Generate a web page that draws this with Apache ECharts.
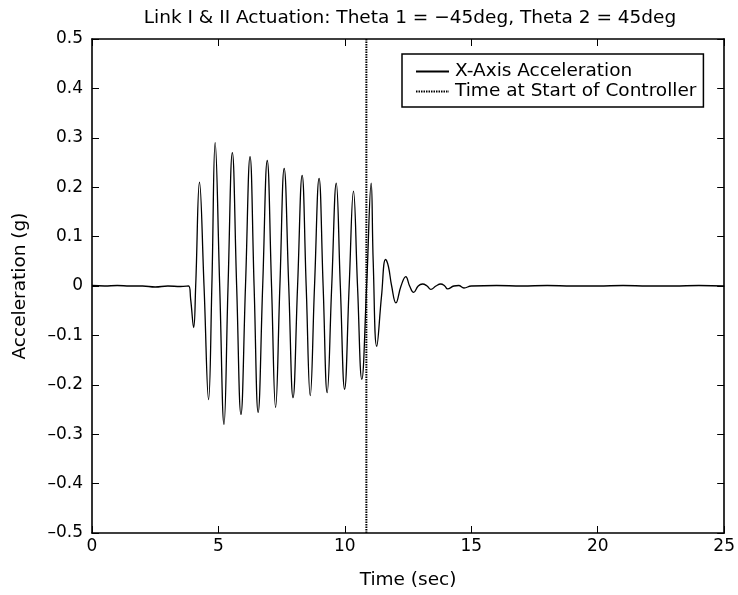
<!DOCTYPE html>
<html><head><meta charset="utf-8">
<script src="https://cdn.jsdelivr.net/npm/echarts@6/dist/echarts.min.js"></script>
<style>html,body{margin:0;padding:0;background:#fff}#c{width:738px;height:595px}</style>
</head><body><div id="c"></div>
<script>
const titleText = 'Link I & II Actuation: Theta 1 = \u221245deg, Theta 2 = 45deg';
const seriesNames = ['X-Axis Acceleration', 'Time at Start of Controller'];
const time = [0,0.5,1.0,1.5,2.0,2.5,3.0,3.5,3.82,3.90,4.02,4.10,4.25,4.43,4.61,4.74,4.87,5.05,5.22,5.38,5.55,5.72,5.89,6.07,6.25,6.41,6.57,6.75,6.93,7.10,7.26,7.43,7.60,7.78,7.95,8.13,8.31,8.47,8.63,8.80,8.98,9.14,9.30,9.48,9.66,9.82,9.99,10.17,10.34,10.50,10.67,10.86,11.04,11.12,11.26,11.45,11.61,11.72,11.85,12.02,12.22,12.41,12.56,12.72,12.90,13.07,13.25,13.40,13.60,13.79,13.95,14.06,14.31,14.50,14.71,15,16,17,18,19,20,21,22,23,24,25];
const accel = [0.001,0.0,0.001,0.0,0.0,-0.002,0.0,-0.001,0.0,-0.026,-0.084,0.0,0.210,0.0,-0.230,0.0,0.290,0.0,-0.280,0.0,0.270,0.0,-0.260,0.0,0.262,0.0,-0.256,0.0,0.254,0.0,-0.246,0.0,0.238,0.0,-0.226,0.0,0.224,0.0,-0.222,0.0,0.218,0.0,-0.216,0.0,0.208,0.0,-0.209,0.0,0.192,0.0,-0.189,0.0,0.208,0.05,-0.122,-0.02,0.054,0.040,0.0,-0.034,0.0,0.019,0.0,-0.013,0.0,0.004,0.0,-0.007,0.0,0.004,0.0,-0.006,0.0,0.001,-0.004,0.0,0.001,0.0,0.001,0.0,0.0,0.001,0.0,0.0,0.001,0.0];
const controllerStart = 10.85;
const yRange = [-0.5, 0.5];
const xRange = [0, 25];

const font = 'DejaVu Sans, sans-serif';
const fmtY = v => {
  const r = Math.round(v * 10) / 10;
  if (r === 0) return '0';
  return (r < 0 ? '\u2013' : '') + Math.abs(r).toFixed(1);
};
const chart = echarts.init(document.getElementById('c'));
const axisCommon = {
  axisLine: {show: true, onZero: false, lineStyle: {color: '#000', width: 1.6}},
  axisTick: {show: true, inside: true, length: 7, lineStyle: {color: '#000', width: 1}},
  splitLine: {show: false}
};
chart.setOption({
  animation: false,
  backgroundColor: '#fff',
  title: {text: titleText, left: 405, textAlign: 'center', top: 4,
    textStyle: {fontFamily: font, fontSize: 18.5, fontWeight: 'normal', color: '#000'}},
  grid: {left: 92, right: 11, top: 39, bottom: 59},
  legend: {
    orient: 'vertical', left: 402, top: 54,
    backgroundColor: '#fff', borderColor: '#000', borderWidth: 1.5,
    padding: [8, 7, 6, 13], itemGap: 1, itemWidth: 33, itemHeight: 14,
    itemStyle: {opacity: 0},
    textStyle: {fontFamily: font, fontSize: 18.5, color: '#000', padding: [0, 0, 0, 1]},
    data: seriesNames
  },
  xAxis: [
    Object.assign({type: 'value', min: xRange[0], max: xRange[1], interval: 5, position: 'bottom',
      name: 'Time (sec)', nameLocation: 'middle', nameGap: 38,
      nameTextStyle: {fontFamily: font, fontSize: 18.5, color: '#000'},
      axisLabel: {fontFamily: font, fontSize: 17, color: '#000', margin: 5}}, axisCommon),
    Object.assign({type: 'value', min: xRange[0], max: xRange[1], interval: 5, position: 'top',
      axisLabel: {show: false}}, axisCommon)
  ],
  yAxis: [
    Object.assign({type: 'value', min: yRange[0], max: yRange[1], interval: 0.1, position: 'left',
      name: 'Acceleration (g)', nameLocation: 'middle', nameGap: 62, nameRotate: 90,
      nameTextStyle: {fontFamily: font, fontSize: 18.5, color: '#000'},
      axisLabel: {fontFamily: font, fontSize: 17, color: '#000', margin: 9, formatter: fmtY}}, axisCommon),
    Object.assign({type: 'value', min: yRange[0], max: yRange[1], interval: 0.1, position: 'right',
      axisLabel: {show: false}}, axisCommon)
  ],
  series: [
    {name: seriesNames[0], type: 'line', xAxisIndex: 0, yAxisIndex: 0, symbol: 'none', smooth: 0.45,
      data: time.map((t, i) => [t, accel[i]]),
      lineStyle: {color: '#000', width: 1.3}, itemStyle: {color: '#000'}},
    {name: seriesNames[1], type: 'line', xAxisIndex: 0, yAxisIndex: 0, symbol: 'none',
      data: [[controllerStart, yRange[0]], [controllerStart, yRange[1]]],
      lineStyle: {color: '#000', width: 2, type: [1.5, 1]}, itemStyle: {color: '#000'}}
  ]
});
</script></body></html>
